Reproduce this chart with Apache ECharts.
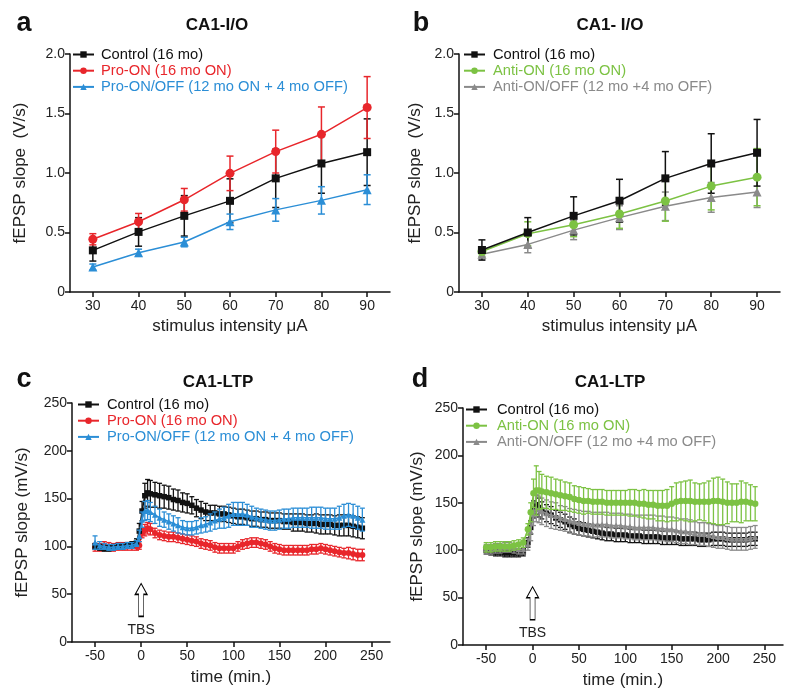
<!DOCTYPE html>
<html><head><meta charset="utf-8">
<script src="https://cdn.jsdelivr.net/npm/echarts@6/dist/echarts.min.js"></script>
<style>html,body{margin:0;padding:0;background:#fff}#c{width:800px;height:695px}</style>
</head><body><div id="c"></div>
<script>
// ---------- I/O data (panels a, b) ----------
const ioX = [30, 40, 50, 60, 70, 80, 90];
const ioTicks = [30, 40, 50, 60, 70, 80, 90];
const aCtrl = [0.35, 0.505, 0.64, 0.766, 0.955, 1.08, 1.175];
const aCtrlErr = [0.09, 0.12, 0.17, 0.185, 0.245, 0.25, 0.28];
const aPro = [0.443, 0.59, 0.775, 0.997, 1.18, 1.325, 1.55];
const aProErr = [0.047, 0.07, 0.095, 0.145, 0.18, 0.23, 0.26];
const aProOff = [0.21, 0.33, 0.42, 0.59, 0.69, 0.77, 0.86];
const aProOffErr = [0.025, 0.03, 0.04, 0.065, 0.095, 0.115, 0.125];
const bCtrl = [0.353, 0.50, 0.64, 0.767, 0.955, 1.08, 1.17];
const bCtrlErr = [0.085, 0.125, 0.16, 0.18, 0.225, 0.25, 0.28];
const bAnti = [0.34, 0.49, 0.565, 0.655, 0.765, 0.89, 0.965];
const bAntiErr = [0.04, 0.1, 0.1, 0.12, 0.17, 0.2, 0.24];
const bAntiOff = [0.317, 0.40, 0.52, 0.625, 0.72, 0.795, 0.84];
const bAntiOffErr = [0.04, 0.07, 0.08, 0.1, 0.12, 0.125, 0.13];

// ---------- LTP data (panels c, d) ----------
const T = [-50,-45,-40,-35,-30,-25,-20,-15,-10,-5,
  -2,1,4,7,10,
  15,20,25,30,35,40,45,50,55,60,
  65,70,75,80,85,90,95,100,105,110,
  115,120,125,130,135,140,145,150,155,160,
  165,170,175,180,185,190,195,200,205,210,
  215,220,225,230,235,240];
const timeTicks = [-50, 0, 50, 100, 150, 200, 250];

const cCtrl = [100,99,98,98,99,100,100,101,102,104,
  116,137,153,156,155,
  154,153,152,151,149,148,146,145,143,140,
  138,136,135,135,134,134,133,132,131,131,
  130,129,129,128,128,127,127,127,126,126,
  125,125,125,124,124,124,123,123,123,122,
  122,122,122,121,120,119];
const cCtrlErr = [3,3,3,3,3,3,3,3,3,4,
  8,10,13,14,14,
  13,13,12,12,11,11,10,10,9,9,
  9,9,8,8,8,8,8,8,8,8,
  8,8,8,8,8,8,8,8,8,8,
  9,9,9,9,9,10,10,10,10,10,
  11,11,11,11,11,11];
const cPro = [99,99,101,100,99,100,100,100,100,100,
  101,114,117,119,118,
  114,112,111,110,110,109,108,107,106,105,
  103,102,101,99,98,98,98,98,100,102,
  103,104,104,103,102,100,98,97,96,96,
  96,96,96,96,97,97,98,97,96,95,
  94,93,93,92,91,91];
const cProErr = [4,4,4,4,4,4,4,4,4,4,
  4,5,6,6,6,
  5,5,5,5,5,5,5,5,5,5,
  5,5,5,5,5,5,5,5,5,5,
  5,5,5,5,5,5,5,5,5,5,
  5,5,5,5,5,5,5,5,5,5,
  5,5,6,6,6,6];
const cOff = [104,101,100,99,99,100,100,101,101,103,
  111,128,137,138,136,
  133,130,128,126,124,122,120,119,119,120,
  122,123,125,127,129,130,132,134,134,134,
  133,131,130,129,128,127,127,128,129,129,
  130,130,130,130,130,130,130,129,129,129,
  130,132,133,132,130,128];
const cOffErr = [7,4,3,3,3,3,3,3,3,3,
  6,8,10,10,10,
  9,9,8,8,8,8,7,7,7,7,
  8,8,9,9,10,11,12,12,12,12,
  11,11,10,10,10,10,10,10,10,10,
  10,10,10,10,11,11,11,11,11,11,
  12,12,12,12,12,12];

const dCtrl = [100,99,98,98,97,97,97,97,98,108,
  124,143,148,145,142,
  139,137,134,132,130,127,125,123,122,121,
  120,119,118,117,117,116,116,116,115,115,
  115,114,114,114,114,113,113,113,113,112,
  112,112,112,111,111,111,112,112,112,111,
  111,111,111,111,112,112];
const dCtrlErr = [4,4,4,4,4,4,4,4,4,5,
  7,9,10,10,9,
  9,9,8,8,8,8,8,7,7,7,
  7,7,7,7,7,7,7,7,7,7,
  7,7,7,7,7,7,7,7,7,7,
  7,7,7,7,7,7,7,7,7,7,
  7,7,7,7,7,7];
const dAnti = [103,103,104,104,104,104,105,106,108,122,
  140,160,163,163,162,
  161,160,159,158,157,156,154,153,152,152,
  151,151,151,150,150,150,150,150,150,150,
  149,149,148,148,147,147,147,149,151,152,
  152,152,151,151,151,151,152,152,151,150,
  150,150,151,151,150,149];
const dAntiErr = [5,5,5,5,5,5,5,5,5,6,
  10,15,26,20,18,
  17,17,16,16,15,15,14,14,14,13,
  13,13,13,13,13,13,13,13,14,14,
  14,15,15,15,16,16,17,18,20,20,
  21,22,20,19,20,22,24,25,24,22,
  20,20,22,20,19,18];
const dOff = [101,101,102,102,103,103,102,101,101,106,
  120,138,144,143,141,
  139,137,136,134,133,131,130,129,128,128,
  127,127,127,127,126,126,126,125,125,124,
  124,124,124,124,123,123,122,122,121,120,
  120,119,118,117,117,116,115,114,114,113,
  112,112,112,112,113,114];
const dOffErr = [5,5,5,5,5,5,5,5,5,6,
  10,12,14,14,14,
  14,14,14,13,13,13,13,13,13,13,
  13,13,13,13,13,13,13,13,13,13,
  13,13,13,13,13,13,13,13,13,13,
  13,13,12,12,12,12,12,12,12,12,
  12,12,12,12,12,12];

// ---------- styling ----------
const BLACK = '#111111', RED = '#e8262b', BLUE = '#2b8ed6', GREEN = '#7cc243', GRAY = '#8a8a8a';
const FONT = 'Arial, "Liberation Sans", sans-serif';
const N_CTRL = 'Control (16 mo)';
const N_PRO = 'Pro-ON (16 mo ON)';
const N_PROOFF = 'Pro-ON/OFF (12 mo ON + 4 mo OFF)';
const N_ANTI = 'Anti-ON (16 mo ON)';
const N_ANTIOFF = 'Anti-ON/OFF (12 mo +4 mo OFF)';

function lineS(name, xs, ys, color, symbol, size, gi, z, lw) {
  return {type: 'line', name, xAxisIndex: gi, yAxisIndex: gi,
    data: xs.map((x, i) => [x, ys[i]]), symbol, symbolSize: size,
    itemStyle: {color}, lineStyle: {color, width: lw}, z, animation: false};
}
function errS(xs, ys, es, color, gi, cap, z, lw) {
  return {type: 'custom', xAxisIndex: gi, yAxisIndex: gi, z, animation: false, silent: true,
    data: xs.map((x, i) => [x, ys[i], es[i]]),
    encode: {x: 0, y: 1},
    renderItem: function (params, api) {
      const x = api.value(0), y = api.value(1), e = api.value(2);
      const p1 = api.coord([x, y + e]), p2 = api.coord([x, y - e]);
      const st = {stroke: color, lineWidth: lw, fill: null};
      return {type: 'group', children: [
        {type: 'line', shape: {x1: p1[0], y1: p1[1], x2: p2[0], y2: p2[1]}, style: st},
        {type: 'line', shape: {x1: p1[0] - cap, y1: p1[1], x2: p1[0] + cap, y2: p1[1]}, style: st},
        {type: 'line', shape: {x1: p2[0] - cap, y1: p2[1], x2: p2[0] + cap, y2: p2[1]}, style: st}
      ]};
    }};
}

const grids = [
  {left: 70, top: 54, width: 320, height: 238},
  {left: 459, top: 54, width: 321, height: 238},
  {left: 72, top: 403, width: 318, height: 239},
  {left: 463, top: 408, width: 320, height: 237}
];

function xAx(gi, min, max, ticks, name, gap) {
  return {type: 'value', gridIndex: gi, min, max, name, nameLocation: 'middle', nameGap: gap,
    nameTextStyle: {fontSize: 17, color: '#222', fontFamily: FONT},
    axisLine: {show: true, onZero: false, lineStyle: {color: BLACK, width: 1.5}},
    axisTick: {show: true, customValues: ticks, length: 5, lineStyle: {color: BLACK, width: 1.5}},
    axisLabel: {customValues: ticks, fontSize: 14, color: '#222', margin: 7, fontFamily: FONT},
    splitLine: {show: false}};
}
function yAx(gi, max, interval, name, gap, fmt) {
  return {type: 'value', gridIndex: gi, min: 0, max, interval, name, nameLocation: 'middle', nameGap: gap,
    nameTextStyle: {fontSize: 17, color: '#222', fontFamily: FONT},
    axisLine: {show: true, onZero: false, lineStyle: {color: BLACK, width: 1.5}},
    axisTick: {show: true, length: 5, lineStyle: {color: BLACK, width: 1.5}},
    axisLabel: {fontSize: 14, color: '#222', margin: 5, formatter: fmt, fontFamily: FONT},
    splitLine: {show: false}};
}
const ioFmt = v => v === 0 ? '0' : v.toFixed(1);
const ltpFmt = v => String(v);

function legend(left, top, items, textPad) {
  return {left, top, padding: 0, orient: 'vertical', itemWidth: 21, itemHeight: 8, itemGap: 1.2,
    selectedMode: false,
    textStyle: {fontSize: 14.7, fontFamily: FONT, lineHeight: 14, padding: [0, 0, 0, textPad]},
    data: items.map(it => ({name: it[0], textStyle: {color: it[1]}}))};
}

const tbs = {
  silent: true,
  symbol: 'path://M6,0 L12,11 L8.5,11 L8.5,33 L3.5,33 L3.5,11 L0,11 Z',
  symbolSize: [12, 33], symbolKeepAspect: false,
  itemStyle: {color: '#fff', borderColor: '#000', borderWidth: 1},
  label: {show: true, position: 'bottom', distance: 6, formatter: 'TBS', color: '#222', fontSize: 14, fontFamily: FONT},
  data: [{coord: [0, 44]}]
};

const series = [
  // panel a
  errS(ioX, aCtrl, aCtrlErr, BLACK, 0, 3.5, 2, 1.5),
  errS(ioX, aPro, aProErr, RED, 0, 3.5, 3, 1.5),
  errS(ioX, aProOff, aProOffErr, BLUE, 0, 3.5, 4, 1.5),
  lineS(N_CTRL, ioX, aCtrl, BLACK, 'rect', 8, 0, 5, 1.5),
  lineS(N_PRO, ioX, aPro, RED, 'circle', 9, 0, 6, 1.5),
  lineS(N_PROOFF, ioX, aProOff, BLUE, 'triangle', 9, 0, 7, 1.5),
  // panel b
  errS(ioX, bAntiOff, bAntiOffErr, GRAY, 1, 3.5, 2, 1.5),
  errS(ioX, bAnti, bAntiErr, GREEN, 1, 3.5, 3, 1.5),
  errS(ioX, bCtrl, bCtrlErr, BLACK, 1, 3.5, 4, 1.5),
  lineS(N_ANTIOFF, ioX, bAntiOff, GRAY, 'triangle', 9, 1, 5, 1.5),
  lineS(N_ANTI, ioX, bAnti, GREEN, 'circle', 9, 1, 6, 1.5),
  lineS(N_CTRL, ioX, bCtrl, BLACK, 'rect', 8, 1, 7, 1.5),
  // panel c
  errS(T, cPro, cProErr, RED, 2, 2.5, 2, 1.3),
  lineS(N_PRO, T, cPro, RED, 'circle', 6, 2, 3, 1.5),
  errS(T, cCtrl, cCtrlErr, BLACK, 2, 2.5, 4, 1.3),
  Object.assign(lineS(N_CTRL, T, cCtrl, BLACK, 'rect', 5.5, 2, 5, 1.5), {markPoint: tbs}),
  errS(T, cOff, cOffErr, BLUE, 2, 2.5, 6, 1.3),
  lineS(N_PROOFF, T, cOff, BLUE, 'triangle', 6, 2, 7, 1.5),
  // panel d
  errS(T, dCtrl, dCtrlErr, BLACK, 3, 2.5, 2, 1.3),
  Object.assign(lineS(N_CTRL, T, dCtrl, BLACK, 'rect', 5.5, 3, 3, 1.5), {markPoint: tbs}),
  errS(T, dOff, dOffErr, GRAY, 3, 2.5, 4, 1.3),
  lineS(N_ANTIOFF, T, dOff, GRAY, 'triangle', 6, 3, 5, 1.5),
  errS(T, dAnti, dAntiErr, GREEN, 3, 2.5, 6, 1.3),
  lineS(N_ANTI, T, dAnti, GREEN, 'circle', 6.5, 3, 7, 1.5)
];

function txt(x, y, s, font) {
  return {type: 'text', x, y, silent: true,
    style: {text: s, font, fill: '#111', textAlign: 'center', textVerticalAlign: 'middle'}};
}

const chart = echarts.init(document.getElementById('c'), null, {renderer: 'canvas'});
chart.setOption({
  animation: false,
  backgroundColor: '#fff',
  textStyle: {fontFamily: FONT},
  grid: grids,
  xAxis: [
    xAx(0, 25, 95, ioTicks, 'stimulus intensity μA', 26),
    xAx(1, 25, 95, ioTicks, 'stimulus intensity μA', 26),
    xAx(2, -75, 270, timeTicks, 'time (min.)', 27),
    xAx(3, -75, 270, timeTicks, 'time (min.)', 27)
  ],
  yAxis: [
    yAx(0, 2, 0.5, 'fEPSP slope  (V/s)', 41, ioFmt),
    yAx(1, 2, 0.5, 'fEPSP slope  (V/s)', 35, ioFmt),
    yAx(2, 250, 50, 'fEPSP slope (mV/s)', 41, ltpFmt),
    yAx(3, 250, 50, 'fEPSP slope (mV/s)', 37, ltpFmt)
  ],
  legend: [
    legend(72, 47, [[N_CTRL, BLACK], [N_PRO, RED], [N_PROOFF, BLUE]], 2),
    legend(463, 47, [[N_CTRL, BLACK], [N_ANTI, GREEN], [N_ANTIOFF, GRAY]], 3),
    legend(77, 397, [[N_CTRL, BLACK], [N_PRO, RED], [N_PROOFF, BLUE]], 3),
    legend(465, 402, [[N_CTRL, BLACK], [N_ANTI, GREEN], [N_ANTIOFF, GRAY]], 5)
  ],
  graphic: [
    txt(24, 24, 'a', 'bold 27px ' + FONT),
    txt(217, 25, 'CA1-I/O', 'bold 17px ' + FONT),
    txt(421, 24, 'b', 'bold 27px ' + FONT),
    txt(610, 25, 'CA1- I/O', 'bold 17px ' + FONT),
    txt(24, 380, 'c', 'bold 27px ' + FONT),
    txt(218, 382, 'CA1-LTP', 'bold 17px ' + FONT),
    txt(420, 380, 'd', 'bold 27px ' + FONT),
    txt(610, 382, 'CA1-LTP', 'bold 17px ' + FONT)
  ],
  series
});
</script></body></html>
